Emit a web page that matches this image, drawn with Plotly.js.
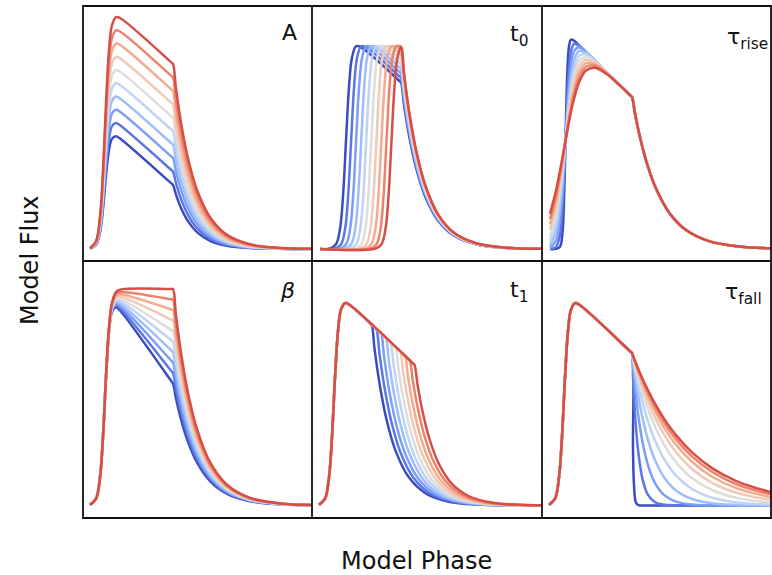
<!DOCTYPE html>
<html>
<head>
<meta charset="utf-8">
<script src="https://cdn.plot.ly/plotly-3.0.1.min.js"></script>
<style>html,body{margin:0;padding:0;background:#fff;}</style>
</head>
<body>
<div id="chart" style="width:772px;height:575px;"></div>
<script>
// coolwarm samples, blue (low parameter value) -> red (high parameter value)
const curveColors = ['#3b4cc0','#5a77e2','#7c9ef6','#9ebdfc','#bfd3f3','#dddddd','#f0c9b7','#f4ab8f','#eb8369','#d64e45'];

// ---------- Panel A ----------
const phaseA = [7,13,17,20,23,26,29,33,37,88.5,90,93,98,105,114,127,144,167,197,229];
const fluxA = [
 [0.4,4.0,16.4,39.8,73.2,99.1,110.3,112.7,110.4,65.4,64.1,54.3,41.1,27.9,16.9,8.2,3.2,0.9,0.2,0],
 [0.4,4.4,18.1,44.1,81.2,110.1,122.9,125.9,123.7,78.8,77.5,65.8,50.1,34.2,20.9,10.3,4.1,1.2,0.2,0],
 [0.5,4.8,19.8,48.3,89.3,121.2,135.5,139.2,137.2,92.3,91.0,77.5,59.3,40.7,25.2,12.5,5.0,1.5,0.3,0.1],
 [0.5,5.3,21.5,52.6,97.2,132.3,148.1,152.4,150.5,105.7,104.4,89.2,68.5,47.4,29.5,14.9,6.1,1.8,0.4,0.1],
 [0.6,5.7,23.2,56.8,105.3,143.4,160.7,165.7,164.0,119.2,117.9,101.0,77.9,54.3,34.1,17.4,7.2,2.2,0.5,0.1],
 [0.6,6.1,24.9,61.1,113.2,154.4,173.3,178.9,177.3,132.6,131.3,112.7,87.4,61.2,38.8,20.0,8.4,2.6,0.6,0.1],
 [0.7,6.5,26.7,65.3,121.2,165.4,185.8,192.1,190.7,146.0,144.7,124.5,97.0,68.4,43.6,22.7,9.7,3.1,0.7,0.1],
 [0.7,6.9,28.4,69.6,129.2,176.5,198.4,205.4,204.2,159.5,158.2,136.5,106.7,75.7,48.6,25.6,11.1,3.6,0.8,0.2],
 [0.7,7.3,30.1,73.9,137.2,187.6,211.0,218.6,217.5,172.9,171.6,148.4,116.5,83.1,53.7,28.7,12.6,4.1,1.0,0.2],
 [0.8,7.7,31.8,78.1,145.2,198.7,223.6,231.9,231.0,186.4,185.1,160.5,126.4,90.7,59.0,31.8,14.1,4.7,1.1,0.2]
];

// ---------- Panel t0 ----------
const phaseT0 = [
 [8,18,24,28,31,34,37,40,44,48,87.5,89,92,97,104,113,126,143,166,196,230],
 [8,23.1,29.1,33.1,36.1,39.1,42.1,45.1,49.1,53.1,87.5,89,92,97,104,113,126,143,166,196,230],
 [8,28.1,34.1,38.1,41.1,44.1,47.1,50.1,54.1,58.1,87.5,89,92,97,104,113,126,143,166,196,230],
 [8,33.2,39.2,43.2,46.2,49.2,52.2,55.2,59.2,63.2,87.5,89,92,97,104,113,126,143,166,196,230],
 [8,38.2,44.2,48.2,51.2,54.2,57.2,60.2,64.2,68.2,87.5,89,92,97,104,113,126,143,166,196,230],
 [8,43.3,49.3,53.3,56.3,59.3,62.3,65.3,69.3,73.3,87.5,89,92,97,104,113,126,143,166,196,230],
 [8,48.4,54.4,58.4,61.4,64.4,67.4,70.4,74.4,78.4,87.5,89,92,97,104,113,126,143,166,196,230],
 [8,53.4,59.4,63.4,66.4,69.4,72.4,75.4,79.4,83.4,87.5,89,92,97,104,113,126,143,166,196,230],
 [8,58.5,64.5,68.5,71.5,74.5,77.5,80.5,84.5,89,92,97,104,113,126,143,166,196,230],
 [8,63.5,69.5,73.5,76.5,79.5,82.5,85.5,89,92,97,104,113,126,143,166,196,230]
];
const fluxT0 = [
 [0,0.5,4.7,20.0,52.5,108.0,162.1,191.5,202.7,202.5,167.9,166.5,144.4,113.7,81.6,53.1,28.6,12.7,4.3,1.0,0.2],
 [0,0.5,4.7,20.0,52.5,108.0,162.1,191.5,202.7,202.5,172.5,171.1,148.3,116.9,83.8,54.6,29.4,13.1,4.4,1.0,0.2],
 [0,0.5,4.7,20.0,52.5,108.0,162.1,191.5,202.7,202.5,177.0,175.6,152.2,119.9,86.0,56.0,30.2,13.4,4.5,1.1,0.2],
 [0,0.5,4.7,20.0,52.5,108.0,162.1,191.5,202.7,202.5,181.6,180.2,156.2,123.1,88.3,57.5,30.9,13.8,4.6,1.1,0.2],
 [0,0.5,4.7,20.0,52.5,108.0,162.1,191.5,202.7,202.5,186.1,184.7,160.1,126.2,90.5,58.9,31.7,14.1,4.7,1.1,0.2],
 [0,0.5,4.7,20.0,52.5,108.0,162.1,191.5,202.7,202.5,190.6,189.2,164.0,129.2,92.7,60.4,32.5,14.5,4.8,1.2,0.2],
 [0,0.5,4.7,20.0,52.5,108.0,162.1,191.5,202.7,202.5,195.1,193.7,167.9,132.3,94.9,61.8,33.3,14.8,5.0,1.2,0.2],
 [0,0.5,4.7,20.0,52.5,108.0,162.1,191.5,202.7,202.5,199.6,198.3,171.9,135.4,97.2,63.3,34.0,15.1,5.1,1.2,0.2],
 [0,0.5,4.7,20.0,52.5,108.0,162.1,191.5,202.7,202.1,175.2,138.0,99.0,64.5,34.7,15.4,5.2,1.2,0.2],
 [0,0.5,4.7,20.0,52.5,108.0,162.1,191.5,202.2,175.3,138.1,99.1,64.5,34.7,15.4,5.2,1.2,0.2]
];

// ---------- Panel tau_rise ----------
const phaseRise = [8,14,18,20.5,22.5,24,25.5,27,29,32,37,44,53,65,78,88.5,90,93,98,105,114,127,144,167,197,229];
const fluxRise = [
 [0,0.1,2.3,16.7,66.0,130.5,180.7,202.5,209.4,208.4,203.7,196.9,188.1,176.4,163.7,153.5,152.0,135.4,111.7,85.4,60.4,36.6,19.0,7.9,2.5,0.7],
 [0.1,2.2,14.5,41.8,83.1,121.2,155.7,180.3,197.7,205.2,203.4,196.9,188.1,176.4,163.7,153.5,152.0,135.4,111.7,85.4,60.4,36.6,19.0,7.9,2.5,0.7],
 [1.2,8.5,29.6,58.1,90.5,117.4,142.7,163.8,183.4,197.7,201.7,196.7,188.1,176.4,163.7,153.5,152.0,135.4,111.7,85.4,60.4,36.6,19.0,7.9,2.5,0.7],
 [3.9,17.2,42.3,68.7,94.7,115.3,135.1,152.7,171.2,188.5,198.0,196.0,188.0,176.4,163.7,153.5,152.0,135.4,111.7,85.4,60.4,36.6,19.0,7.9,2.5,0.7],
 [8.1,26.1,52.3,75.7,97.3,114.0,130.1,145.0,161.7,179.5,193.0,194.5,187.8,176.4,163.7,153.5,152.0,135.4,111.7,85.4,60.4,36.6,19.0,7.9,2.5,0.7],
 [13.3,34.4,60.0,80.8,99.1,113.1,126.7,139.4,154.4,171.7,187.4,192.2,187.2,176.3,163.7,153.5,152.0,135.4,111.7,85.4,60.4,36.6,19.0,7.9,2.5,0.7],
 [18.9,41.8,66.1,84.6,100.4,112.4,124.1,135.2,148.6,164.9,181.7,189.2,186.2,176.1,163.7,153.5,152.0,135.4,111.7,85.4,60.4,36.6,19.0,7.9,2.5,0.7],
 [24.6,48.2,70.9,87.5,101.4,111.9,122.1,132.0,144.0,159.2,176.2,185.8,184.9,175.8,163.6,153.5,152.0,135.4,111.7,85.4,60.4,36.6,19.0,7.9,2.5,0.7],
 [30.0,53.6,74.9,89.9,102.2,111.5,120.6,129.4,140.2,154.3,171.2,182.3,183.2,175.3,163.5,153.4,152.0,135.4,111.7,85.4,60.4,36.6,19.0,7.9,2.5,0.7],
 [35.2,58.4,78.2,91.7,102.9,111.2,119.3,127.2,137.1,150.2,166.5,178.6,181.3,174.7,163.3,153.4,151.9,135.4,111.7,85.4,60.4,36.6,19.0,7.9,2.5,0.7]
];

// ---------- Panel beta ----------
const phaseBeta = [7,13,17,20,23,26,29,33,37,88.5,90,93,98,105,114,127,144,167,197,229];
const fluxBeta = [
 [0.74,6.98,28.5,69.4,128.0,173.6,193.6,198.3,195.0,124.1,122.0,107.1,86.2,63.6,43.0,24.4,11.7,4.3,1.2,0.3],
 [0.73,6.94,28.4,69.3,128.1,174.1,194.7,200.0,197.4,134.3,132.5,116.3,93.6,69.0,46.7,26.5,12.7,4.7,1.3,0.3],
 [0.72,6.90,28.3,69.2,128.2,174.6,195.7,201.7,199.7,144.6,143.0,125.5,101.0,74.5,50.4,28.6,13.7,5.0,1.4,0.3],
 [0.71,6.86,28.2,69.2,128.3,175.1,196.7,203.4,202.0,154.9,153.5,134.7,108.4,80.0,54.1,30.7,14.7,5.4,1.5,0.4],
 [0.71,6.82,28.1,69.1,128.4,175.6,197.7,205.0,204.3,165.1,164.0,143.9,115.8,85.4,57.8,32.8,15.7,5.8,1.6,0.4],
 [0.70,6.77,28.0,69.0,128.4,176.1,198.7,206.7,206.6,175.4,174.5,153.2,123.2,90.9,61.5,34.9,16.7,6.1,1.7,0.4],
 [0.69,6.73,27.9,68.9,128.5,176.7,199.7,208.4,208.9,185.7,185.0,162.4,130.6,96.4,65.2,37.0,17.7,6.5,1.8,0.4],
 [0.69,6.69,27.8,68.8,128.6,177.2,200.7,210.1,211.2,196.0,195.5,171.6,138.1,101.9,68.9,39.1,18.7,6.9,1.9,0.5],
 [0.68,6.65,27.7,68.7,128.7,177.7,201.7,211.7,213.5,206.2,206.0,180.8,145.5,107.3,72.6,41.2,19.7,7.3,2.0,0.5],
 [0.67,6.60,27.6,68.6,128.8,178.2,202.8,213.4,215.8,216.5,216.5,190.0,152.9,112.8,76.3,43.3,20.7,7.6,2.1,0.5]
];

// ---------- Panel t1 ----------
const phaseT1 = [
 [7,13,17,20,23,26,29,33,37,58.2,59.7,62.7,67.7,74.7,83.7,96.7,113.7,136.7,166.7,230],
 [7,13,17,20,23,26,29,33,37,63.0,64.5,67.5,72.5,79.5,88.5,101.5,118.5,141.5,171.5,230],
 [7,13,17,20,23,26,29,33,37,67.7,69.2,72.2,77.2,84.2,93.2,106.2,123.2,146.2,176.2,230],
 [7,13,17,20,23,26,29,33,37,72.5,74.0,77.0,82.0,89.0,98.0,111.0,128.0,151.0,181.0,230],
 [7,13,17,20,23,26,29,33,37,77.2,78.7,81.7,86.7,93.7,102.7,115.7,132.7,155.7,185.7,230],
 [7,13,17,20,23,26,29,33,37,82.0,83.5,86.5,91.5,98.5,107.5,120.5,137.5,160.5,190.5,230],
 [7,13,17,20,23,26,29,33,37,86.8,88.3,91.3,96.3,103.3,112.3,125.3,142.3,165.3,195.3,230],
 [7,13,17,20,23,26,29,33,37,91.5,93.0,96.0,101.0,108.0,117.0,130.0,147.0,170.0,200.0,230],
 [7,13,17,20,23,26,29,33,37,96.3,97.8,100.8,105.8,112.8,121.8,134.8,151.8,174.8,204.8,230],
 [7,13,17,20,23,26,29,33,37,101.0,102.5,105.5,110.5,117.5,126.5,139.5,156.5,179.5,209.5,230]
];
const fluxT1 = [
 [0.71,6.83,28.1,68.9,127.7,174.4,195.8,202.4,201.0,181.9,180.5,155.4,121.0,85.3,54.4,28.4,12.1,3.8,0.9,0],
 [0.71,6.83,28.1,68.9,127.7,174.4,195.8,202.4,201.0,177.5,176.1,151.6,118.0,83.2,53.0,27.7,11.8,3.8,0.8,0],
 [0.71,6.83,28.1,68.9,127.7,174.4,195.8,202.4,201.0,173.1,171.7,147.8,115.1,81.1,51.7,27.0,11.5,3.7,0.8,0],
 [0.71,6.83,28.1,68.9,127.7,174.4,195.8,202.4,201.0,168.6,167.2,143.9,112.1,79.0,50.4,26.3,11.2,3.6,0.8,0],
 [0.71,6.83,28.1,68.9,127.7,174.4,195.8,202.4,201.0,164.3,162.9,140.2,109.2,77.0,49.1,25.6,10.9,3.5,0.8,0],
 [0.71,6.83,28.1,68.9,127.7,174.4,195.8,202.4,201.0,159.8,158.4,136.3,106.2,74.8,47.7,24.9,10.6,3.4,0.8,0],
 [0.71,6.83,28.1,68.9,127.7,174.4,195.8,202.4,201.0,155.3,153.9,132.5,103.2,72.7,46.4,24.2,10.3,3.3,0.7,0],
 [0.71,6.83,28.1,68.9,127.7,174.4,195.8,202.4,201.0,151.0,149.6,128.8,100.3,70.7,45.1,23.5,10.1,3.2,0.7,0.1],
 [0.71,6.83,28.1,68.9,127.7,174.4,195.8,202.4,201.0,146.5,145.1,124.9,97.3,68.5,43.7,22.8,9.8,3.1,0.7,0.1],
 [0.71,6.83,28.1,68.9,127.7,174.4,195.8,202.4,201.0,142.1,140.7,121.1,94.3,66.5,42.4,22.1,9.5,3.0,0.7,0.2]
];

// ---------- Panel tau_fall ----------
const phaseFall = [7,13,17,20,23,26,29,33,37,88.5,90,91,92,94,97,101,106,113,122,134,150,170,195,229];
const fluxFall = [
 [0.71,6.83,28.1,68.9,127.7,174.4,195.8,202.4,201.0,153.8,152.4,56.1,20.6,2.8,0.1,0,0,0,0,0,0,0,0,0],
 [0.71,6.83,28.1,68.9,127.7,174.4,195.8,202.4,201.0,153.8,152.4,129.0,109.2,78.2,47.5,24.4,10.6,3.3,0.7,0.1,0,0,0,0],
 [0.71,6.83,28.1,68.9,127.7,174.4,195.8,202.4,201.0,153.8,152.4,140.2,129.0,109.2,85.0,60.9,40.2,22.4,10.6,3.9,1.0,0.2,0,0],
 [0.71,6.83,28.1,68.9,127.7,174.4,195.8,202.4,201.0,153.8,152.4,144.6,137.2,123.5,105.4,85.4,65.7,45.4,28.3,15.0,6.5,2.3,0.6,0.1],
 [0.71,6.83,28.1,68.9,127.7,174.4,195.8,202.4,201.0,153.8,152.4,146.9,141.5,131.4,117.6,101.4,84.3,65.0,46.6,29.9,16.5,7.9,3.1,0.9],
 [0.71,6.83,28.1,68.9,127.7,174.4,195.8,202.4,201.0,153.8,152.4,148.1,143.9,135.9,124.8,111.3,96.5,79.0,61.1,43.4,27.4,15.5,7.6,2.9],
 [0.71,6.83,28.1,68.9,127.7,174.4,195.8,202.4,201.0,153.8,152.4,148.8,145.3,138.6,129.0,117.3,104.1,88.1,71.1,53.5,36.5,22.7,12.5,5.6],
 [0.71,6.83,28.1,68.9,127.7,174.4,195.8,202.4,201.0,153.8,152.4,149.3,146.2,140.2,131.7,121.2,109.2,94.4,78.2,60.9,43.7,28.8,17.1,8.4],
 [0.71,6.83,28.1,68.9,127.7,174.4,195.8,202.4,201.0,153.8,152.4,149.6,146.8,141.3,133.6,123.8,112.7,98.7,83.3,66.4,49.1,33.7,21.0,11.1],
 [0.71,6.83,28.1,68.9,127.7,174.4,195.8,202.4,201.0,153.8,152.4,149.7,147.1,142.1,134.8,125.7,115.1,101.8,86.9,70.4,53.2,37.4,24.2,13.3]
];

const panelLabels = ['A', 't<sub>0</sub>', 'τ<sub>rise</sub>', '<i>β</i>', 't<sub>1</sub>', 'τ<sub>fall</sub>'];

// ---------- build traces ----------
const traces = [];
function addPanel(n, xs, ys, sharedX) {
  for (let i = 0; i < ys.length; i++) {
    traces.push({
      x: sharedX ? xs : xs[i],
      y: ys[i],
      xaxis: 'x' + (n === 1 ? '' : n),
      yaxis: 'y' + (n === 1 ? '' : n),
      mode: 'lines',
      line: {color: curveColors[i], width: 2.5, shape: 'spline', smoothing: 1},
      hoverinfo: 'skip',
      showlegend: false
    });
  }
}
addPanel(1, phaseA, fluxA, true);
addPanel(2, phaseT0, fluxT0, false);
addPanel(3, phaseRise, fluxRise, true);
addPanel(4, phaseBeta, fluxBeta, true);
addPanel(5, phaseT1, fluxT1, false);
addPanel(6, phaseFall, fluxFall, true);

const ax = {showgrid:false, zeroline:false, showticklabels:false, ticks:'', showline:false, fixedrange:true};
const c1 = 229/688, c2 = 459/688, rMid = 257/512;
const frameLine = {color:'#111', width:1.8};
const frameShapes = [
  {type:'rect', xref:'paper', yref:'paper', x0:0, x1:1, y0:0, y1:1, line:frameLine},
  {type:'line', xref:'paper', yref:'paper', x0:c1, x1:c1, y0:0, y1:1, line:frameLine},
  {type:'line', xref:'paper', yref:'paper', x0:c2, x1:c2, y0:0, y1:1, line:frameLine},
  {type:'line', xref:'paper', yref:'paper', x0:0, x1:1, y0:rMid, y1:rMid, line:frameLine}
];
const layout = {
  width: 772, height: 575,
  margin: {l:83, r:1, t:6, b:57, pad:0},
  paper_bgcolor: '#ffffff', plot_bgcolor: '#ffffff',
  showlegend: false,
  font: {family: 'DejaVu Sans, sans-serif', color: '#111'},
  xaxis:  Object.assign({}, ax, {domain:[0, c1],  range:[0,229], anchor:'y'}),
  yaxis:  Object.assign({}, ax, {domain:[rMid,1], range:[-12,243], anchor:'x'}),
  xaxis2: Object.assign({}, ax, {domain:[c1, c2], range:[0,230], anchor:'y2'}),
  yaxis2: Object.assign({}, ax, {domain:[rMid,1], range:[-12,243], anchor:'x2'}),
  xaxis3: Object.assign({}, ax, {domain:[c2, 1],  range:[0,229], anchor:'y3'}),
  yaxis3: Object.assign({}, ax, {domain:[rMid,1], range:[-12,243], anchor:'x3'}),
  xaxis4: Object.assign({}, ax, {domain:[0, c1],  range:[0,229], anchor:'y4'}),
  yaxis4: Object.assign({}, ax, {domain:[0,rMid], range:[-12.5,244.5], anchor:'x4'}),
  xaxis5: Object.assign({}, ax, {domain:[c1, c2], range:[0,230], anchor:'y5'}),
  yaxis5: Object.assign({}, ax, {domain:[0,rMid], range:[-12.5,244.5], anchor:'x5'}),
  xaxis6: Object.assign({}, ax, {domain:[c2, 1],  range:[0,229], anchor:'y6'}),
  yaxis6: Object.assign({}, ax, {domain:[0,rMid], range:[-12.5,244.5], anchor:'x6'}),
  shapes: frameShapes,
  annotations: [
    {xref:'x',  yref:'y',  x:197, y:216.5, text:panelLabels[0]},
    {xref:'x2', yref:'y2', x:196, y:214,   text:panelLabels[1]},
    {xref:'x3', yref:'y3', x:183, y:211,   text:panelLabels[2]},
    {xref:'x4', yref:'y4', x:195, y:215.5, text:panelLabels[3]},
    {xref:'x5', yref:'y5', x:196, y:214.5, text:panelLabels[4]},
    {xref:'x6', yref:'y6', x:181, y:212.5, text:panelLabels[5]}
  ].map(a => Object.assign(a, {xanchor:'left', yanchor:'middle', showarrow:false,
        font:{family:'DejaVu Sans, sans-serif', size:22, color:'#111'}}))
   .concat([
    {xref:'paper', yref:'paper', x:(416-83)/688, y:(518-561)/512, xanchor:'center', yanchor:'middle',
     showarrow:false, text:'Model Phase', font:{family:'DejaVu Sans, sans-serif', size:24, color:'#111'}},
    {xref:'paper', yref:'paper', x:(30-83)/688, y:(518-260)/512, xanchor:'center', yanchor:'middle',
     showarrow:false, textangle:-90, text:'Model Flux', font:{family:'DejaVu Sans, sans-serif', size:24, color:'#111'}}
   ])
};
Plotly.newPlot('chart', traces, layout, {staticPlot:true, displayModeBar:false});
</script>
</body>
</html>
